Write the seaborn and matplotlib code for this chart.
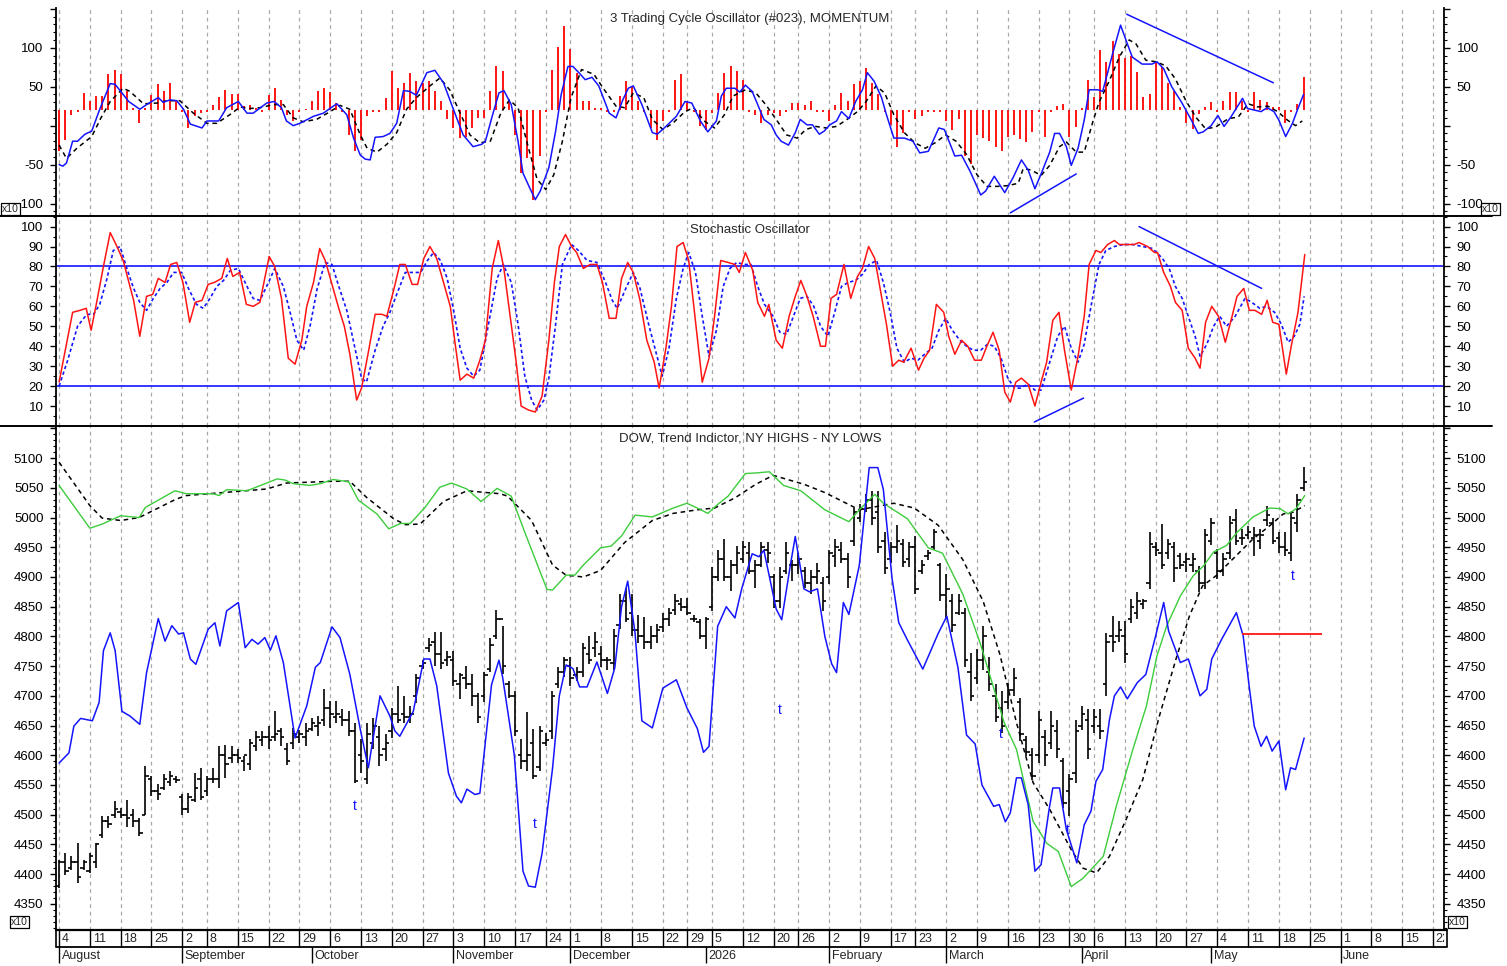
import numpy as np
import pandas as pd
import seaborn as sns
import matplotlib.pyplot as plt
from matplotlib.lines import Line2D
from matplotlib.ticker import MultipleLocator, FixedLocator, FixedFormatter

sns.set_style("white")
plt.rcParams['font.family'] = ['Liberation Sans', 'DejaVu Sans']
plt.rcParams['font.size'] = 9.5

BLUE = '#1414ff'
RED = '#ff1414'
GREEN = '#3ccc3c'
GRID = '#a8a8a8'

# trading calendar, x axis = trading day number from Aug 4 2025
holidays = pd.to_datetime(['2025-09-01', '2025-11-27', '2025-12-25', '2026-01-01',
                           '2026-01-19', '2026-02-16', '2026-04-03'])
days = pd.bdate_range('2025-08-04', '2026-06-26')
days = days[~days.isin(holidays)]
wk = days.to_period('W')
week_pos = [i for i in range(len(days)) if i == 0 or wk[i] != wk[i - 1]]
week_lab = [str(days[i].day) for i in week_pos]
mon_pos = [i for i in range(len(days)) if i == 0 or days[i].month != days[i - 1].month]
mon_lab = ['2026' if days[i].month == 1 else days[i].strftime('%B') for i in mon_pos]

# ---------------- DOW daily bars (one line per week) ----------------
bar_high = [4424, 4435, 4430, 4452, 4424,
            4435, 4452, 4497, 4497, 4523,
            4511, 4525, 4509, 4494, 4582,
            4565, 4551, 4568, 4573, 4565,
            4534, 4537, 4570, 4579,
            4565, 4579, 4615, 4618, 4615,
            4610, 4598, 4627, 4641, 4641,
            4649, 4674, 4646, 4621, 4646,
            4643, 4655, 4663, 4666, 4711,
            4691, 4691, 4677, 4674, 4655,
            4627, 4655, 4663, 4649, 4635,
            4680, 4716, 4700, 4683, 4736,
            4761, 4798, 4807, 4807, 4776,
            4776, 4739, 4750, 4736, 4705,
            4740, 4798, 4845, 4818, 4725,
            4708, 4627, 4673, 4644, 4650,
            4638, 4708, 4749, 4766,
            4766, 4749, 4789, 4801, 4807,
            4783, 4766, 4813, 4871, 4882,
            4871, 4836, 4833, 4818, 4821,
            4839, 4847, 4871, 4865,
            4865, 4836, 4830, 4833,
            4917, 4946, 4964, 4929, 4952,
            4961, 4958, 4929, 4958, 4958,
            4905, 4917, 4958, 4929,
            4940, 4917, 4911, 4923, 4900,
            4946, 4964, 4958, 4940, 5016,
            5022, 5039, 5045, 5045, 4975,
            4958, 4987, 4964, 4958,
            4969, 4929, 4946, 4981, 4923,
            4905, 4871, 4871, 4847, 4772,
            4778, 4818, 4766, 4720, 4708,
            4722, 4747, 4697, 4632, 4613,
            4674, 4643, 4674, 4660, 4596,
            4568, 4660, 4683, 4677,
            4677, 4677, 4806, 4835, 4826,
            4826, 4863, 4874, 4863, 4975,
            4958, 4989, 4964, 4958, 4941,
            4941, 4941, 4919, 4981, 5000,
            4947, 4941, 5003, 5015, 4981,
            4986, 4984, 4981, 5020, 5000,
            4975, 4975, 5009, 5040, 5085]
bar_low = [4377, 4399, 4407, 4385, 4407,
           4402, 4410, 4461, 4478, 4494,
           4494, 4480, 4480, 4464, 4500,
           4531, 4525, 4542, 4548, 4554,
           4500, 4503, 4522, 4525,
           4531, 4554, 4545, 4562, 4587,
           4587, 4573, 4576, 4607, 4615,
           4610, 4624, 4615, 4584, 4610,
           4621, 4615, 4641, 4632, 4649,
           4646, 4655, 4649, 4632, 4554,
           4570, 4551, 4610, 4582, 4590,
           4629, 4655, 4655, 4655, 4688,
           4745, 4773, 4750, 4745, 4750,
           4717, 4694, 4711, 4683, 4655,
           4690, 4740, 4795, 4737, 4696,
           4632, 4577, 4574, 4560, 4574,
           4615, 4627, 4714, 4731,
           4717, 4725, 4731, 4754, 4766,
           4749, 4743, 4743, 4813, 4824,
           4801, 4789, 4778, 4778, 4789,
           4807, 4818, 4836, 4842,
           4836, 4824, 4795, 4778,
           4842, 4894, 4894, 4876, 4905,
           4923, 4905, 4882, 4917, 4923,
           4847, 4847, 4905, 4894,
           4905, 4882, 4871, 4888, 4842,
           4888, 4917, 4923, 4882, 4952,
           4993, 5010, 4987, 4940, 4905,
           4923, 4940, 4917, 4917,
           4871, 4905, 4929, 4946, 4859,
           4830, 4807, 4836, 4749, 4691,
           4720, 4743, 4708, 4656, 4638,
           4677, 4700, 4624, 4598, 4559,
           4587, 4582, 4610, 4596, 4511,
           4497, 4554, 4643, 4593,
           4638, 4627, 4700, 4773, 4790,
           4756, 4823, 4829, 4846, 4880,
           4936, 4913, 4930, 4891, 4913,
           4908, 4908, 4874, 4880, 4953,
           4896, 4902, 4930, 4953, 4953,
           4964, 4936, 4947, 4986, 4956,
           4941, 4936, 4927, 4975, 5045]
bar_open = [4380, 4420, 4410, 4420, 4410,
            4405, 4420, 4465, 4490, 4500,
            4505, 4500, 4500, 4490, 4500,
            4560, 4540, 4545, 4555, 4560,
            4530, 4510, 4525, 4560,
            4540, 4560, 4560, 4600, 4595,
            4600, 4590, 4585, 4615, 4625,
            4630, 4630, 4640, 4610, 4620,
            4630, 4630, 4645, 4650, 4660,
            4680, 4665, 4665, 4660, 4640,
            4600, 4560, 4620, 4630, 4610,
            4640, 4670, 4670, 4665, 4700,
            4750, 4780, 4790, 4770, 4760,
            4760, 4720, 4730, 4720, 4700,
            4700, 4745, 4800, 4830, 4720,
            4700, 4600, 4590, 4620, 4580,
            4620, 4640, 4720, 4740,
            4750, 4735, 4740, 4770, 4780,
            4770, 4760, 4755, 4820, 4860,
            4840, 4810, 4800, 4790, 4800,
            4815, 4830, 4845, 4855,
            4850, 4830, 4825, 4800,
            4850, 4900, 4930, 4900, 4920,
            4930, 4940, 4910, 4920, 4945,
            4900, 4860, 4910, 4920,
            4920, 4910, 4890, 4900, 4890,
            4900, 4935, 4945, 4930, 4960,
            5000, 5015, 5030, 5010, 4960,
            4930, 4950, 4955, 4930,
            4950, 4910, 4935, 4950, 4920,
            4870, 4860, 4840, 4840, 4740,
            4730, 4760, 4740, 4700, 4680,
            4690, 4710, 4690, 4625, 4600,
            4600, 4630, 4620, 4640, 4590,
            4540, 4570, 4650, 4660,
            4650, 4650, 4720, 4800, 4800,
            4800, 4830, 4840, 4855, 4890,
            4950, 4940, 4940, 4950, 4935,
            4925, 4920, 4910, 4890, 4960,
            4940, 4910, 4940, 4995, 4965,
            4970, 4965, 4960, 4995, 4990,
            4965, 4950, 4940, 4990, 5050]
bar_close = [4420, 4405, 4420, 4395, 4420,
             4430, 4450, 4490, 4485, 4510,
             4500, 4495, 4490, 4470, 4565,
             4540, 4535, 4560, 4565, 4558,
             4510, 4530, 4545, 4530,
             4560, 4560, 4600, 4585, 4600,
             4595, 4600, 4620, 4630, 4630,
             4625, 4635, 4630, 4590, 4635,
             4635, 4640, 4655, 4655, 4680,
             4670, 4670, 4660, 4640, 4556,
             4590, 4635, 4650, 4600, 4620,
             4670, 4660, 4665, 4670, 4730,
             4755, 4785, 4770, 4755, 4765,
             4725, 4735, 4720, 4700, 4665,
             4735, 4785, 4830, 4750, 4700,
             4640, 4590, 4600, 4565, 4640,
             4625, 4700, 4740, 4760,
             4730, 4740, 4780, 4760, 4790,
             4760, 4760, 4800, 4860, 4830,
             4810, 4800, 4790, 4800, 4810,
             4830, 4840, 4860, 4850,
             4840, 4830, 4800, 4830,
             4900, 4930, 4900, 4920, 4940,
             4950, 4910, 4920, 4950, 4940,
             4860, 4900, 4940, 4920,
             4930, 4890, 4900, 4910, 4860,
             4940, 4950, 4930, 4900, 5010,
             5015, 5030, 5000, 4950, 4915,
             4950, 4960, 4925, 4950,
             4880, 4920, 4940, 4975, 4870,
             4880, 4820, 4860, 4760, 4700,
             4760, 4800, 4720, 4665, 4650,
             4710, 4730, 4635, 4605, 4565,
             4660, 4600, 4650, 4610, 4520,
             4560, 4640, 4670, 4610,
             4665, 4640, 4790, 4790, 4810,
             4770, 4850, 4860, 4860, 4955,
             4945, 4920, 4955, 4915, 4920,
             4930, 4930, 4890, 4970, 4990,
             4910, 4930, 4990, 4960, 4965,
             4975, 4970, 4970, 5005, 4960,
             4950, 4945, 5000, 5030, 5060]

# trend indicator (green) and its average (black dashed), NY highs - NY lows (blue)
trend_pts = [(0, 5054), (5, 4982), (7, 4989), (10, 5003), (13, 5000), (14, 5017), (18.8, 5045),
             (20.7, 5040), (25, 5040), (26, 5037), (27.2, 5047), (30.5, 5045), (35.4, 5065),
             (36.7, 5063), (38, 5057), (40.7, 5054), (42.4, 5057), (44.5, 5064), (47, 5060),
             (48.6, 5029), (51.6, 5006), (53.5, 4981), (55.4, 4990), (57, 4990), (59.4, 5017),
             (61.8, 5051), (63.7, 5058), (66.2, 5048), (68.5, 5027), (71.1, 5049), (73.4, 5036),
             (75.6, 4975), (79.2, 4879), (80.1, 4878), (82.3, 4903), (83.7, 4903), (85.1, 4920),
             (87.9, 4949), (89.6, 4952), (91.3, 4969), (93.5, 5004), (96.3, 5001), (99.7, 5016),
             (101.9, 5024), (103.6, 5016), (105.3, 5007), (106.9, 5022), (108.6, 5036),
             (111.4, 5074), (113.1, 5075), (115.3, 5077), (117.6, 5054), (120.4, 5045),
             (124.3, 5013), (128.2, 4993), (129.9, 5013), (132.4, 5039), (133.8, 5024),
             (137.7, 4998), (141.1, 4949), (143.4, 4940), (146.7, 4871), (149.5, 4789),
             (153.4, 4655), (155.4, 4610), (158.1, 4489), (160.3, 4452), (162.2, 4438),
             (164.3, 4379), (166.2, 4393), (169.5, 4430), (171.6, 4514), (174.3, 4610),
             (176.5, 4683), (178.2, 4767), (179.8, 4818), (182, 4868), (184.1, 4902),
             (185.8, 4919), (187.4, 4942), (189.5, 4953), (191.2, 4975), (193.8, 5001),
             (196.5, 5016), (198.2, 5015), (199.5, 5006), (200.8, 5015), (202.2, 5037)]
avg_pts = [(0, 5093), (5, 5020), (7, 4999), (10, 4995), (13, 5000), (19, 5031), (20.7, 5037),
           (33.7, 5048), (36.9, 5058), (44.5, 5061), (47.2, 5061), (49.9, 5034), (54.3, 4998),
           (56.2, 4988), (58.6, 4989), (62.4, 5027), (66.2, 5045), (68.3, 5043), (71.6, 5040),
           (72.8, 5036), (76.7, 4995), (80.1, 4920), (82.3, 4903), (85.1, 4900), (87.9, 4911),
           (91.8, 4958), (96.3, 4995), (99.7, 5007), (103.6, 5013), (106.4, 5016),
           (109.7, 5033), (113.1, 5056), (115.9, 5071), (120.9, 5056), (124.3, 5042),
           (129.9, 5013), (135.5, 5024), (138.8, 5016), (142.7, 4987), (146.7, 4929),
           (150, 4859), (152.7, 4770), (155.4, 4655), (158.1, 4554), (160.8, 4509),
           (164.3, 4441), (166.2, 4410), (168.4, 4402), (170.5, 4430), (173.2, 4492),
           (175.9, 4559), (178.6, 4666), (181.3, 4762), (183.5, 4835), (185.6, 4885),
           (187.8, 4902), (190.5, 4930), (193.8, 4964), (196.5, 4986), (198.7, 5006),
           (200.3, 5009), (202.2, 5020)]
nyhl_pts = [(0, 4587), (1.6, 4604), (2.4, 4649), (3.5, 4662), (5.4, 4658), (6.5, 4689), (7.2, 4776),
            (8.3, 4806), (9.1, 4776), (10.2, 4674), (11.5, 4666), (13.1, 4652), (14.2, 4739),
            (16.1, 4830), (17.2, 4792), (18.3, 4818), (19.4, 4804), (20.2, 4806), (21.3, 4762),
            (22.2, 4753), (24.2, 4812), (25.3, 4823), (26.1, 4784), (27.2, 4843), (29.1, 4857),
            (30.2, 4781), (31.3, 4795), (32.3, 4787), (33.4, 4798), (34.3, 4777), (35.2, 4801),
            (36.4, 4756), (38.3, 4629), (40.2, 4683), (41.6, 4748), (42.4, 4756), (44.3, 4816),
            (45.6, 4798), (47.2, 4736), (48.9, 4643), (50.2, 4579), (52.1, 4700), (53.7, 4666),
            (54.5, 4641), (55.3, 4632), (57.5, 4674), (59.2, 4762), (60.2, 4762), (61.3, 4717),
            (63.2, 4570), (64.5, 4531), (65.3, 4520), (66.2, 4543), (67.5, 4534), (68.3, 4536),
            (70.2, 4719), (71.4, 4760), (72, 4731), (73.9, 4600), (75.3, 4405), (76.2, 4380),
            (77.3, 4378), (78.4, 4435), (80.1, 4578), (81.2, 4700), (82.3, 4752), (83.4, 4746),
            (84.5, 4715), (85.7, 4715), (87.3, 4757), (89, 4704), (90.2, 4747), (91.3, 4850),
            (92.3, 4893), (93.5, 4805), (94.6, 4658), (96.3, 4646), (98, 4713), (100.2, 4727),
            (101.9, 4680), (103.6, 4645), (104.6, 4605), (105.5, 4615), (106.9, 4817),
            (108.3, 4850), (109.7, 4831), (110.8, 4880), (112.5, 4939), (113.6, 4934),
            (114.4, 4945), (116.4, 4846), (117.3, 4828), (118.7, 4920), (119.5, 4968),
            (120.9, 4880), (121.8, 4875), (123.1, 4880), (124.3, 4800), (125.4, 4754),
            (126.2, 4739), (127.3, 4857), (128.2, 4837), (129.9, 4920), (131.5, 5084),
            (132.9, 5084), (133.8, 5047), (135.2, 4898), (136.3, 4823), (137.7, 4794),
            (140.2, 4745), (142.7, 4805), (144.1, 4834), (145.9, 4748), (147.3, 4634),
            (148.7, 4619), (149.8, 4550), (151.7, 4514), (152.6, 4517), (153.6, 4488),
            (154.4, 4503), (155.4, 4562), (156.2, 4562), (157.3, 4517), (158.4, 4405),
            (159.4, 4416), (160.7, 4509), (161.3, 4545), (162.4, 4545), (163.5, 4475),
            (165.2, 4419), (166.4, 4483), (167.5, 4506), (168.3, 4556), (169.4, 4576),
            (170.5, 4660), (171.3, 4700), (172.3, 4715), (173.4, 4695), (175, 4722),
            (176.4, 4736), (178, 4801), (179.3, 4857), (180.1, 4809), (182, 4756),
            (183.3, 4762), (185.2, 4700), (186.3, 4711), (187.1, 4762), (188.7, 4795),
            (191.1, 4840), (192.2, 4801), (193.2, 4714), (194, 4649), (195.1, 4615),
            (196, 4632), (196.9, 4607), (198, 4624), (199.1, 4542), (199.9, 4579),
            (200.7, 4576), (202.1, 4629)]
t_day = [48, 77.2, 117, 152.9, 163.8, 200.2]
t_val = [4514, 4484, 4676, 4635, 4475, 4902]
level_day = [192, 205]
level_val = 4804

# ---------------- momentum panel ----------------
mom_hist = [-33, -18, 14, 18, 42,
            31, 38, 38, 66, 71,
            66, 45, 23, 3, 23,
            39, 54, 45, 55, 31,
            18, -3, 12, 16,
            18, 27, 37, 46, 40,
            40, 25, 27, 23, 18,
            39, 48, 33, 14, 6,
            18, 21, 31, 45, 48,
            43, 29, 18, -12, -33,
            -18, 12, 18, 18, 36,
            70, 48, 55, 68, 57,
            55, 57, 44, 31, 8,
            -3, -16, -15, -3, 10,
            10, 45, 76, 70, 33,
            -12, -61, -42, -95, -39,
            18, 72, 101, 128,
            98, 68, 31, 31, 23,
            23, 18, 18, 38, 57,
            51, 31, 18, -3, -18,
            6, 18, 59, 66,
            31, 18, -1, -5,
            16, 42, 68, 76, 70,
            59, 18, 14, 3, 14,
            16, 12, 18, 29,
            29, 27, 32, 18, 18,
            6, 27, 42, 31, 53,
            57, 74, 55, 40, 18,
            1, -27, -9, 18,
            8, 12, 18, 18, 18,
            6, -5, 8, -39, -49,
            -12, -16, -20, -27, -33,
            -14, -12, -17, -21, -8,
            18, -15, 18, 25, 28,
            -15, -2, 22, 59,
            37, 97, 82, 109, 92,
            87, 90, 69, 37, 40,
            82, 75, 55, 45, 24,
            3, -4, 15, 24, 30,
            18, 32, 43, 43, 32,
            18, 43, 33, 30, 24,
            24, 3, 18, 28, 62]
mom_pts = [(0, -50), (0.6, -52), (1.2, -48), (2.2, -20), (3, -20), (4.2, -11), (5.3, -7), (6.6, 21),
           (8.3, 54), (9.1, 53), (11.3, 31), (13.1, 21), (14.2, 27), (16.1, 36), (16.9, 30),
           (18, 33), (19.1, 32), (20.2, 21), (21.3, 2), (23.2, -3), (24, 6), (25.9, 6), (27.2, 23),
           (29.1, 31), (30.5, 16), (31.5, 16), (33.7, 29), (34.9, 31), (36.1, 23), (36.9, 6),
           (38, 0), (39.1, 3), (41.3, 12), (42.9, 16), (44.5, 25), (45.1, 28), (46.7, 14),
           (47.8, -16), (48.9, -38), (49.7, -43), (50.5, -44), (51.3, -15), (52.6, -14),
           (53.7, -10), (54.8, 3), (55.9, 45), (56.9, 44), (58, 39), (59.7, 68), (61, 71),
           (62.4, 55), (64, 21), (65.6, -12), (67.2, -27), (68.6, -24), (69.2, -20), (70.3, 12),
           (71.4, 42), (72.2, 45), (73.4, 27), (74.5, -20), (75.3, -61), (76.4, -80), (77.3, -95),
           (78.1, -84), (79.5, -54), (80.6, -7), (81.5, 40), (82.6, 76), (83.4, 76), (84.6, 66),
           (85.4, 59), (86.5, 62), (87.6, 51), (89.3, 16), (90.4, 10), (91.5, 33), (92.4, 48),
           (93.2, 51), (94.6, 27), (96.3, -9), (97.1, -11), (98.5, -1), (100.2, 12), (101.6, 31),
           (102.7, 29), (104.1, 6), (105.3, -8), (106.7, 6), (107.5, 38), (108.3, 48),
           (109.7, 48), (110.5, 43), (111.4, 52), (112.5, 44), (113.6, 23), (114.4, 8),
           (115.6, 1), (116.4, -12), (117.2, -20), (118.4, -25), (119.5, -9), (120.3, 8),
           (121.4, 1), (122.3, 1), (123.4, -11), (124.2, -7), (125.1, 1), (126.2, 6), (127, 18),
           (128.2, 9), (129.3, 31), (130.4, 46), (131.2, 68), (132.3, 57), (133.5, 36),
           (134.3, 14), (135.5, -16), (137.2, -16), (138.6, -20), (139.7, -35), (141.1, -33),
           (142.8, -3), (143.7, -5), (145.4, -39), (146.5, -38), (147.9, -59), (149.6, -89),
           (150.4, -84), (151.8, -65), (153.5, -86), (154.9, -66), (156.2, -44), (157.3, -57),
           (158.4, -81), (159.4, -62), (160.8, -34), (161.6, -10), (162.4, -10), (163.5, -27),
           (164.3, -51), (165.4, -29), (166.4, 7), (167.2, 46), (168.6, 46), (169.4, 44),
           (171, 92), (172.3, 129), (173.4, 105), (174.2, 88), (175.8, 79), (177.4, 79),
           (178.2, 82), (179.3, 73), (180.6, 50), (182.2, 30), (183.8, 7), (184.9, -10),
           (185.7, -8), (187, 0), (188.1, 13), (189.1, -1), (190.2, 11), (192.1, 35), (192.9, 22),
           (195.1, 18), (196.1, 23), (197.2, 18), (198, 7), (199.1, -14), (200.2, 3), (201, 20),
           (202, 40)]
momavg_pts = [(0, -25), (1.2, -42), (2.9, -29), (5.3, -14), (6.8, 10), (8.3, 31), (10.4, 48),
              (11.5, 44), (13.7, 28), (15.9, 29), (17.5, 32), (19.6, 32), (21.8, 16), (24, 3),
              (25.6, 3), (27.7, 14), (29.4, 24), (31, 22), (32.6, 23), (34.8, 27), (36.4, 27),
              (38, 10), (39.6, 5), (41.8, 8), (44, 18), (45.6, 26), (47.2, 21), (48.9, -12),
              (50, -29), (51.6, -34), (53.2, -24), (54.8, -9), (56.4, 21), (58, 36), (60.2, 51),
              (61.8, 61), (63.4, 46), (65.1, 16), (66.7, -12), (68.3, -22), (70, -20), (71.7, 16),
              (73.1, 33), (74.5, 23), (76.2, -29), (77.6, -69), (79, -82), (80.3, -63),
              (81.7, -20), (83.1, 36), (84.8, 72), (86.8, 66), (88.5, 46), (90.4, 25), (91.8, 23),
              (93.2, 42), (94.9, 36), (96.3, 8), (98, -5), (99.6, 3), (101.6, 18), (103, 23),
              (104.7, 6), (106.4, -3), (108, 14), (109.4, 38), (111.4, 46), (113.1, 42),
              (114.7, 27), (116.4, 8), (118.1, -12), (119.8, -16), (121.2, -5), (122.8, -1),
              (124.5, -3), (126.2, -1), (127.9, 8), (129.6, 18), (131, 31), (132.6, 51), (134, 42),
              (135.5, 14), (137.2, -9), (138.9, -22), (140.6, -29), (142.2, -22), (143.9, -12),
              (145.6, -20), (147.3, -37), (149, -63), (150.6, -78), (152.3, -78), (154, -77),
              (155.7, -74), (156.5, -55), (157.8, -57), (159.4, -64), (160.8, -51), (162.4, -27),
              (163.5, -21), (165.1, -34), (166.4, -34), (167.8, 5), (168.8, 30), (170.5, 58),
              (172.1, 88), (173.7, 110), (174.8, 105), (176.4, 84), (178, 82), (179.6, 77),
              (181.2, 60), (182.9, 32), (184.5, 11), (186.1, -4), (187.7, -2), (189.8, 9),
              (191.4, 11), (193, 28), (194.6, 24), (196.2, 25), (197.8, 18), (199.4, 7),
              (200.7, 0), (201.8, 6)]
mom_div1 = [(154.4, -112), (165.1, -62)]
mom_div2 = [(173.3, 143), (197.1, 55)]

# ---------------- stochastic panel ----------------
stk_pts = [(0, 22), (2.2, 57), (3.4, 58), (4.4, 59), (5.2, 48), (6.1, 62), (7.2, 80), (8.3, 97),
           (9.4, 90), (10.4, 83), (12.1, 63), (13.1, 45), (14.2, 65), (15.2, 66), (16.1, 74),
           (17.2, 72), (18.1, 81), (19.1, 82), (20.1, 72), (21.2, 52), (22.1, 62), (23.2, 63),
           (24.2, 71), (25.2, 72), (26.4, 74), (27.3, 84), (28.2, 75), (29.3, 77), (30.4, 61),
           (31.5, 60), (32.6, 62), (34.1, 85), (35, 80), (36.1, 64), (37.2, 34), (38.3, 31),
           (39.4, 43), (40.2, 60), (41.3, 72), (42.3, 89), (43.2, 83), (44.3, 71), (45.4, 59),
           (46.3, 50), (47.2, 36), (48.3, 13), (49.1, 19), (50.2, 37), (51.3, 56), (52.4, 56),
           (53.2, 55), (54.3, 68), (55.3, 81), (56.2, 81), (57.3, 71), (58.2, 71), (59.2, 84),
           (60.2, 90), (61.3, 84), (62.4, 72), (63.5, 60), (64.3, 41), (65.1, 23), (66.2, 26),
           (67.3, 24), (68.3, 33), (69.2, 43), (70.3, 79), (71.3, 93), (72.2, 79), (73.4, 51),
           (74.2, 32), (75, 10), (76.2, 8), (77.3, 7), (78.4, 15), (79.5, 43), (80.4, 72),
           (81.2, 90), (82.2, 96), (83.2, 90), (84, 87), (85.1, 79), (86.2, 81), (87.3, 81),
           (88.2, 72), (89.3, 54), (90.4, 54), (91.3, 74), (92.3, 82), (93.2, 77), (94.3, 63),
           (95.4, 43), (96.6, 32), (97.4, 19), (98.5, 39), (99.4, 60), (100.3, 90), (101.3, 92),
           (102.2, 83), (103.1, 58), (104.4, 22), (105.5, 34), (106.4, 55), (107.4, 83),
           (108.6, 82), (109.7, 81), (110.4, 77), (111.4, 87), (112.6, 78), (113.4, 62),
           (114.5, 55), (115.2, 61), (116.4, 43), (117.4, 39), (118.5, 55), (119.5, 65),
           (120.4, 73), (121.4, 65), (122.4, 55), (123.6, 40), (124.4, 40), (125.3, 64),
           (126.2, 66), (127.4, 81), (128.5, 64), (129.6, 75), (130.4, 79), (131.4, 90),
           (132.4, 84), (133.5, 65), (134.3, 51), (135.3, 30), (136.3, 33), (137.1, 32),
           (138.3, 39), (139.5, 28), (140.4, 34), (141.3, 38), (142.4, 61), (143.6, 57),
           (144.4, 45), (145.4, 36), (146.5, 43), (147.5, 40), (148.6, 33), (149.7, 33),
           (150.6, 40), (151.6, 47), (152.6, 38), (153.5, 17), (154.4, 12), (155.3, 22),
           (156.2, 24), (157.3, 21), (158.4, 10), (159.4, 22), (160.3, 32), (161.3, 53),
           (162.3, 57), (163.2, 38), (164.3, 18), (165.4, 35), (166.4, 55), (167.2, 81),
           (168.3, 88), (169.1, 87), (170.2, 91), (171.3, 93), (172.1, 91), (173.2, 91),
           (174.5, 91), (175.3, 92), (176.7, 90), (177.8, 87), (178.3, 87), (179.3, 77),
           (180.4, 70), (181.2, 62), (182.3, 58), (183.3, 39), (184.4, 34), (185.2, 29),
           (186.1, 52), (187.1, 60), (188.2, 55), (189.3, 42), (190.4, 55), (191.2, 65),
           (192.3, 69), (193.2, 58), (194.1, 58), (195.2, 56), (196.1, 63), (197, 52), (198, 51),
           (199.2, 26), (200, 40), (201.1, 57), (202.2, 86)]
std_pts = [(0, 20), (1.4, 33), (3, 50), (4.5, 56), (5.6, 56), (6.6, 61), (7.7, 73), (8.8, 88),
           (9.9, 90), (11, 79), (12.1, 69), (13.1, 62), (14.2, 58), (15.3, 64), (16.4, 69),
           (17.5, 72), (18.6, 77), (19.9, 77), (21, 69), (22.3, 61), (23.4, 59), (24.5, 64),
           (25.6, 70), (26.7, 73), (27.8, 78), (29.1, 79), (30.5, 70), (31.5, 64), (32.6, 63),
           (34, 72), (35, 79), (36.4, 70), (37.5, 57), (38.6, 43), (39.7, 38), (40.8, 51),
           (41.9, 69), (43.2, 82), (44.3, 81), (45.4, 70), (46.7, 58), (48.1, 38), (49.1, 24),
           (49.9, 22), (51.3, 38), (52.6, 50), (53.7, 57), (54.8, 66), (56.2, 77), (57.6, 77),
           (58.7, 77), (59.8, 83), (60.8, 87), (61.9, 83), (63, 74), (64.1, 57), (65.1, 39),
           (66.2, 29), (67.3, 25), (68.3, 28), (69.7, 51), (71.1, 74), (72.1, 81), (73.4, 72),
           (74.5, 51), (75.6, 25), (76.7, 13), (77.6, 8), (78.7, 13), (79.5, 24), (80.6, 51),
           (81.7, 81), (83.2, 91), (84.3, 88), (85.7, 83), (87.3, 82), (88.7, 72), (89.8, 63),
           (90.6, 59), (92, 69), (93.2, 77), (94.3, 69), (95.7, 51), (96.8, 38), (97.9, 25),
           (99, 39), (100.2, 64), (101.3, 79), (102.2, 87), (103.3, 77), (104.4, 55),
           (105.5, 35), (106.7, 48), (107.8, 70), (108.9, 79), (110, 82), (111.2, 81),
           (112.3, 81), (113.4, 70), (114.5, 61), (115.9, 55), (117, 47), (118.1, 46),
           (119.2, 55), (120.3, 64), (121.4, 65), (122.5, 60), (123.6, 50), (124.8, 45),
           (125.9, 57), (127, 70), (128.1, 72), (129.3, 73), (130.4, 76), (131.5, 81),
           (132.7, 83), (133.8, 72), (134.9, 57), (136, 39), (137.2, 32), (138.3, 34),
           (139.4, 33), (140.5, 36), (141.7, 39), (142.8, 48), (143.9, 54), (145, 48),
           (146.2, 43), (147.3, 40), (148.4, 38), (149.6, 38), (150.7, 41), (151.8, 40),
           (152.9, 34), (154, 24), (155.1, 19), (156, 19), (157.3, 21), (158.4, 18), (159.4, 18),
           (160.8, 32), (162.1, 45), (163.2, 50), (164.3, 39), (165.4, 32), (166.4, 41),
           (167.5, 60), (168.8, 81), (169.9, 88), (171.3, 90), (172.7, 91), (174.3, 91),
           (175.9, 90), (177.5, 89), (179.1, 84), (180.2, 79), (181.2, 70), (182.3, 64),
           (183.3, 55), (184.4, 45), (185.2, 35), (186.3, 41), (187.4, 50), (188.4, 55),
           (189.5, 50), (190.9, 55), (192.5, 64), (193.6, 62), (194.9, 59), (196, 60),
           (197.3, 57), (198.4, 51), (199.5, 42), (200.5, 45), (201.4, 51), (202.1, 65)]
sto_div1 = [(158.3, 2), (166.3, 14)]
sto_div2 = [(175.3, 100), (195.2, 69)]
sto_levels = [20, 80]

XL = (-0.5, 224.8)
W, H = 1507, 966
fig = plt.figure(figsize=(W / 100, H / 100), dpi=100)
left, width = 56 / W, (1444 - 56) / W
ax1 = fig.add_axes([left, 1 - 216 / H, width, 208 / H])
ax2 = fig.add_axes([left, 1 - 426 / H, width, 210 / H])
ax3 = fig.add_axes([left, 1 - 930 / H, width, 504 / H])
ax4 = fig.add_axes([left, 0, width, 36 / H])


def draw_line(ax, pts, color, lw=1.1, ls='-', z=3):
    x, y = zip(*pts)
    sns.lineplot(x=list(x), y=list(y), ax=ax, color=color, linewidth=lw, linestyle=ls,
                 estimator=None, sort=False, zorder=z)


def style_panel(ax, ylim, major, labels, minor):
    ax.set_xlim(XL)
    ax.set_ylim(ylim)
    ax.set_xticks([])
    ax.set_xlabel('')
    ax.set_ylabel('')
    ax.yaxis.set_major_locator(FixedLocator(major))
    ax.yaxis.set_major_formatter(FixedFormatter(labels))
    ax.yaxis.set_minor_locator(MultipleLocator(minor))
    ax.tick_params(axis='y', which='both', direction='out', left=True, right=True,
                   labelleft=True, labelright=True, pad=5, labelsize=9.5, colors='black')
    ax.tick_params(axis='y', which='major', length=4, width=1)
    ax.tick_params(axis='y', which='minor', length=2.2, width=0.8)
    for s in ['top', 'bottom']:
        ax.spines[s].set_visible(False)
    for s in ['left', 'right']:
        ax.spines[s].set_color('black')
        ax.spines[s].set_linewidth(1.3)
    ax.vlines(week_pos, ylim[0], ylim[1], colors=GRID, linestyles=(0, (3, 3)), lw=0.9, zorder=0)


# ---- panel 1: momentum ----
ax1.vlines(np.arange(len(mom_hist)), 20, mom_hist, color=RED, lw=1.4, zorder=1)
draw_line(ax1, momavg_pts, 'black', lw=1.1, ls=(0, (3, 2.5)))
draw_line(ax1, mom_pts, BLUE, lw=1.1)
draw_line(ax1, mom_div1, BLUE, lw=1.1)
draw_line(ax1, mom_div2, BLUE, lw=1.1)
style_panel(ax1, (-116, 151), [-100, -50, 0, 50, 100, 150],
            ['-100', '-50', '', '50', '100', ''], 10)
ax1.text(0.5, 0.947, '3 Trading Cycle Oscillator (#023), MOMENTUM', transform=ax1.transAxes,
         ha='center', va='center', fontsize=9.5)

# ---- panel 2: stochastic ----
for lv in sto_levels:
    ax2.axhline(lv, color=BLUE, lw=1.2, zorder=2)
draw_line(ax2, std_pts, BLUE, lw=1.2, ls=(0, (2, 1.6)))
draw_line(ax2, stk_pts, RED, lw=1.1)
draw_line(ax2, sto_div1, BLUE, lw=1.1)
draw_line(ax2, sto_div2, BLUE, lw=1.1)
style_panel(ax2, (0, 105.3), list(range(0, 101, 10)),
            [''] + [str(v) for v in range(10, 101, 10)], 5)
ax2.text(0.5, 0.935, 'Stochastic Oscillator', transform=ax2.transAxes,
         ha='center', va='center', fontsize=9.5)

# ---- panel 3: DOW bars, trend indicator, NY highs - lows ----
bx = np.arange(len(bar_high))
ax3.vlines(bx, bar_low, bar_high, color='black', lw=1.2, zorder=2)
ax3.hlines(bar_close, bx, bx + 0.55, color='black', lw=1.2, zorder=2)
ax3.hlines(bar_open, bx - 0.55, bx, color='black', lw=1.2, zorder=2)
draw_line(ax3, avg_pts, 'black', lw=1.1, ls=(0, (3, 2.5)))
draw_line(ax3, trend_pts, GREEN, lw=1.0)
draw_line(ax3, nyhl_pts, BLUE, lw=1.1)
ax3.hlines(level_val, level_day[0], level_day[1], color=RED, lw=1.3, zorder=3)
for d, v in zip(t_day, t_val):
    ax3.text(d, v, 't', color=BLUE, ha='center', va='center', fontsize=10, zorder=4)
ticks3 = list(range(4350, 5151, 50))
style_panel(ax3, (4306, 5154), ticks3, [str(v) for v in ticks3[:-1]] + [''], 10)
ax3.text(0.5, 0.976, 'DOW, Trend Indictor, NY HIGHS - NY LOWS', transform=ax3.transAxes,
         ha='center', va='center', fontsize=9.5)

# ---- bottom date strip ----
ax4.set_xlim(XL)
ax4.set_ylim(0, 1)
ax4.axis('off')
mid = (H - 947) / 36
ax4.plot([XL[0], XL[1] + 0.5], [1, 1], color='black', lw=1.6, clip_on=False)
ax4.plot([XL[0], XL[1] + 0.5], [mid, mid], color='black', lw=1.3, clip_on=False)
ax4.vlines([XL[0], XL[1] + 0.5], mid, 1, color='black', lw=1.2, clip_on=False)
ax4.vlines(week_pos, mid, 1, color='black', lw=1.0)
for p, lab in zip(week_pos, week_lab):
    ax4.text(p + 0.45, (1 + mid) / 2, lab, ha='left', va='center', fontsize=9, clip_on=True)
ax4.vlines(mon_pos, 0.08, mid, color='black', lw=1.0)
for p, lab in zip(mon_pos, mon_lab):
    ax4.text(p + 0.4, 0.27, lab, ha='left', va='center', fontsize=9, clip_on=True)

# panel separators
for yy in [216, 426]:
    fig.add_artist(Line2D([0, 1492 / W], [1 - yy / H, 1 - yy / H], transform=fig.transFigure,
                          color='black', lw=1.4))

# scale boxes
box = dict(boxstyle='square,pad=0.12', fc='white', ec='black', lw=0.9)
for yy, xl, xr in [(209, 2, 1482), (922, 11, 1449)]:
    fig.text(xl / W, 1 - yy / H, 'x10', fontsize=7.5, ha='left', va='center', bbox=box)
    fig.text(xr / W, 1 - yy / H, 'x10', fontsize=7.5, ha='left', va='center', bbox=box)

fig.savefig('out.png', dpi=100)
